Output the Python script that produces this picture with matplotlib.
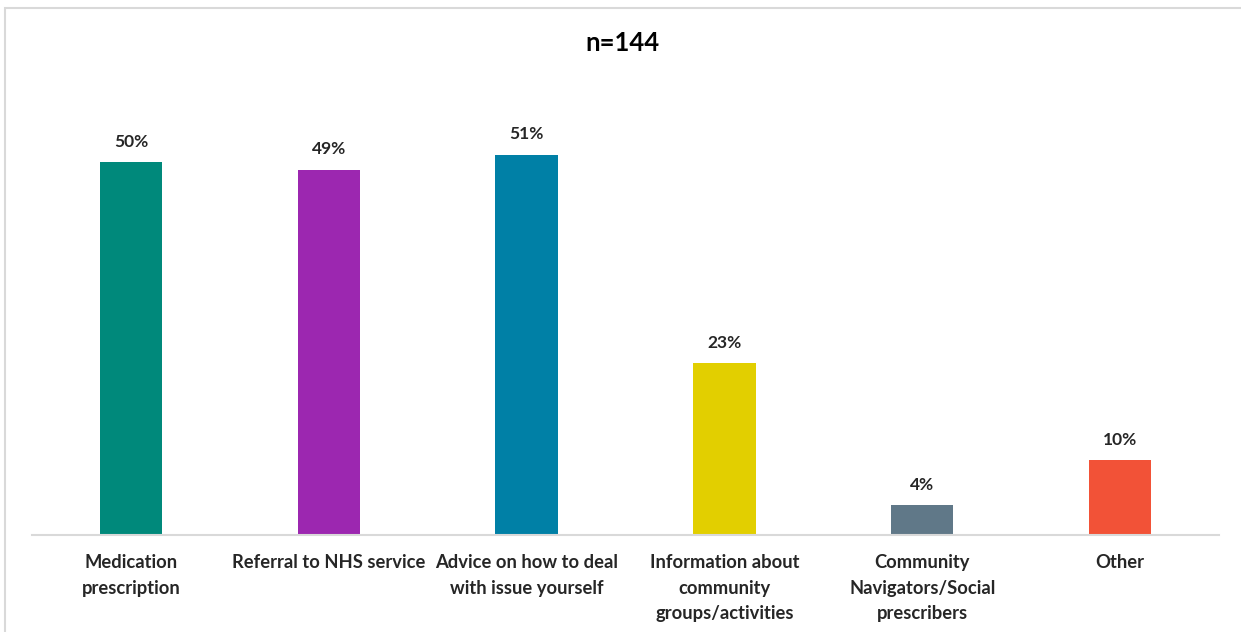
import matplotlib.pyplot as plt
from matplotlib.patches import Rectangle

categories = [
    "Medication\nprescription",
    "Referral to NHS service",
    "Advice on how to deal\nwith issue yourself",
    "Information about\ncommunity\ngroups/activities",
    "Community\nNavigators/Social\nprescribers",
    "Other",
]
values = [50, 49, 51, 23, 4, 10]
colors = ["#00897B", "#9C27B0", "#0080A6", "#E2CF00", "#607888", "#F25237"]

plt.rcParams["font.family"] = ["Lato", "DejaVu Sans"]

W, H = 1241, 632
fig = plt.figure(figsize=(W / 100, H / 100), dpi=100)

# outer chart frame (cut off at right/bottom like the screenshot)
fig.patches.append(Rectangle((5 / W, -0.1), 1.2, 1 - 8 / H + 0.1,
                             transform=fig.transFigure, fill=False,
                             edgecolor="#D9D9D9", linewidth=1.5))

ax = fig.add_axes([32 / W, 1 - 535 / H, (1219 - 32) / W, (535 - 80) / H])
x = range(len(categories))
bars = ax.bar(x, values, width=0.315, color=colors)

ax.set_xlim(-0.5, len(categories) - 0.5)
ax.set_ylim(0, 61)
for s in ["left", "right", "top"]:
    ax.spines[s].set_visible(False)
ax.spines["bottom"].set_color("#D9D9D9")
ax.spines["bottom"].set_linewidth(1.5)
ax.set_yticks([])
ax.set_xticks(list(x))
ax.set_xticklabels(categories, fontsize=13.2, fontweight="bold", color="#262626",
                   linespacing=1.6, va="top")
ax.tick_params(axis="x", length=0, pad=14)

for b, v in zip(bars, values):
    ax.annotate(f"{v}%", (b.get_x() + b.get_width() / 2, v),
                xytext=(0, 9), textcoords="offset points",
                ha="center", va="bottom", fontsize=12.5, fontweight="bold",
                color="#262626")

fig.text(622 / W, 1 - 43 / H, "n=144", ha="center", va="center",
         fontsize=18.5, fontweight="bold", color="#000000")

fig.savefig("out.png", dpi=100)
